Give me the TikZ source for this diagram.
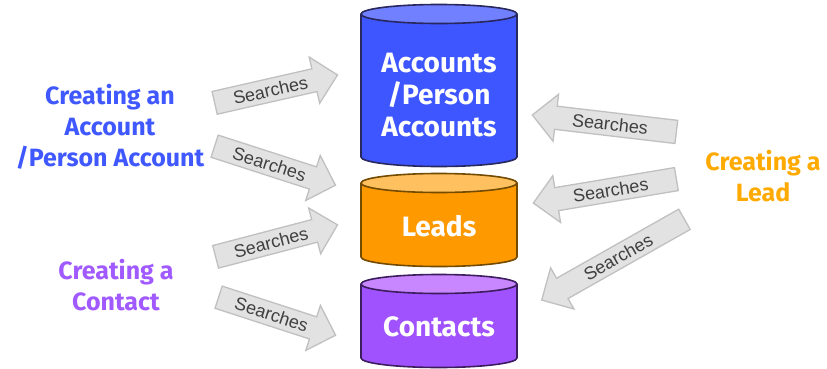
\documentclass[tikz,border=0pt]{standalone}
\usepackage{fontspec}
\newfontfamily\lblfont{Fira Sans}
\newfontfamily\arwfont{Liberation Sans}
\usetikzlibrary{shapes.arrows}
\definecolor{accblue}{RGB}{62,86,255}
\definecolor{acctop}{RGB}{112,128,255}
\definecolor{accedge}{RGB}{40,40,95}
\definecolor{leadorg}{RGB}{255,153,0}
\definecolor{leadtop}{RGB}{255,192,95}
\definecolor{leadedge}{RGB}{115,75,0}
\definecolor{conpur}{RGB}{160,82,255}
\definecolor{contop}{RGB}{200,135,255}
\definecolor{conedge}{RGB}{60,30,95}
\definecolor{lblblue}{RGB}{64,88,255}
\definecolor{lblorg}{RGB}{255,170,0}
\definecolor{lblpur}{RGB}{160,90,255}
\definecolor{arwfill}{RGB}{226,226,226}
\definecolor{arwedge}{RGB}{192,192,192}
\definecolor{arwtext}{RGB}{64,64,64}
\newcommand\dbcyl[6]{%
  \fill[#4] (361,#3) -- (361,#2) arc[start angle=180,end angle=360,x radius=78,y radius=9.5]
     -- (517,#3) arc[start angle=0,end angle=-180,x radius=78,y radius=9.5] -- cycle;
  \fill[#5] (439,#2) ellipse[x radius=78,y radius=9.5];
  \draw[#6,line width=1.6pt,line join=round] (361,#2) -- (361,#3)
     arc[start angle=180,end angle=360,x radius=78,y radius=9.5] -- (517,#2);
  \draw[#6,line width=1.6pt] (439,#2) ellipse[x radius=78,y radius=9.5];
}
\tikzset{
  dbtext/.style={text=white,font=\lblfont\bfseries\fontsize{28}{32}\selectfont,align=center,inner sep=0pt},
  lbl/.style={font=\lblfont\bfseries\fontsize{25}{31}\selectfont,align=center,inner sep=0pt},
  srch/.style={single arrow,draw=arwedge,fill=arwfill,line width=1.3pt,text=arwtext,
    font=\arwfont\fontsize{18}{18}\selectfont,text height=13pt,text depth=0pt,
    inner ysep=4.5pt,inner xsep=3pt,single arrow head extend=12pt,single arrow tip angle=90},
  srchl/.style={srch,shape border rotate=180}
}
\begin{document}
\begin{tikzpicture}[x=1pt,y=1pt]
\useasboundingbox (0,0) rectangle (827,368);
\fill[white] (0,0) rectangle (827,368);
% cylinders
\dbcyl{acc}{354}{211}{accblue}{acctop}{accedge}
\dbcyl{lead}{185}{111}{leadorg}{leadtop}{leadedge}
\dbcyl{con}{84}{10}{conpur}{contop}{conedge}
\node[dbtext] (accounts) at (439,273) {Accounts\\/Person\\Accounts};
\node[dbtext] (leads) at (439,142) {Leads};
\node[dbtext] (contacts) at (439,41) {Contacts};
% labels
\node[lbl,text=lblblue] (cacc) at (110,241) {Creating an\\Account\\/Person Account};
\node[lbl,text=lblpur] (ccon) at (116,83) {Creating a\\Contact};
\node[lbl,text=lblorg] (clead) at (763,191.5) {Creating a\\Lead};
% arrows
\coordinate (t1) at (214,265);
\coordinate (t2) at (214,222);
\coordinate (t3) at (215,111);
\coordinate (t4) at (218,71);
\coordinate (t5) at (677,236);
\coordinate (t6) at (677,189);
\coordinate (t7) at (685,149);
\node[srch,anchor=tail,rotate=12.8,minimum height=126] (a1) at (t1) {Searches};
\node[srch,anchor=tail,rotate=-17.9,minimum height=127] (a2) at (t2) {Searches};
\node[srch,anchor=tail,rotate=14.7,minimum height=126] (a3) at (t3) {Searches};
\node[srch,anchor=tail,rotate=-18,minimum height=123] (a4) at (t4) {Searches};
\node[srchl,anchor=tail,rotate=-6.7,minimum height=145] (a5) at (t5) {Searches};
\node[srchl,anchor=tail,rotate=9.5,minimum height=145] (a6) at (t6) {Searches};
\node[srchl,anchor=tail,rotate=29.5,minimum height=164] (a7) at (t7) {Searches};
\end{tikzpicture}
\end{document}
